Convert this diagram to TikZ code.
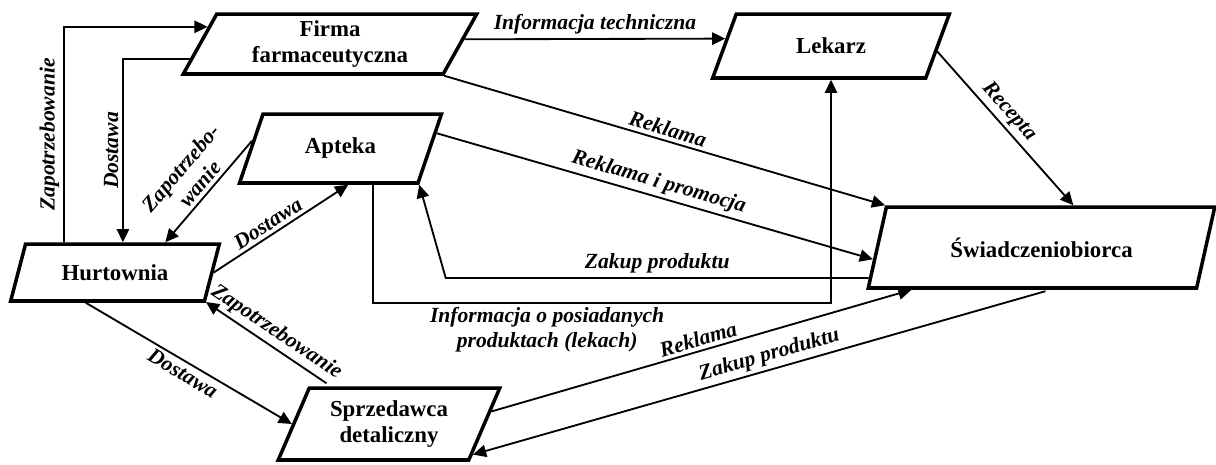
\documentclass[tikz,border=0pt]{standalone}
\usepackage{fontspec}
\setmainfont{Liberation Serif}
\usetikzlibrary{arrows.meta,calc,shapes.geometric}
\tikzset{
  box/.style={draw, line width=2pt, trapezium, trapezium left angle=65, trapezium right angle=115,
    trapezium stretches=true, inner sep=1pt, align=center, font=\fontsize{13}{15}\selectfont\bfseries},
  flow/.style={line width=1.05pt, -{Triangle[length=7.5pt,width=7pt]}},
  lbl/.style={font=\fontsize{12.3}{14}\selectfont\bfseries\itshape, inner sep=2pt, align=center}
}
\begin{document}
\begin{tikzpicture}[x=0.02cm,y=-0.02cm]
\useasboundingbox (0,0) rectangle (1216,464);
\node[box, minimum width=5.88cm, minimum height=1.2cm] (firma) at (330,44) {Firma\\farmaceutyczna};
\node[box, minimum width=4.76cm, minimum height=1.28cm] (lekarz) at (831,46) {Lekarz};
\node[box, minimum width=4.06cm, minimum height=1.38cm] (apteka) at (340.5,148.5) {Apteka};
\node[box, minimum width=4.2cm, minimum height=1.14cm] (hurt) at (115,272.5) {Hurtownia};
\node[box, minimum width=4.44cm, minimum height=1.44cm] (sprzed) at (389,424) {Sprzedawca\\detaliczny};
\node[box, minimum width=6.94cm, minimum height=1.62cm] (swiad) at (1041.5,247.5) {Świadczeniobiorca};

\draw[flow] ($(hurt.top left corner)!0.2!(hurt.top right corner)$) |- node[lbl, sloped, pos=0.25, above] {Zapotrzebowanie} (firma.172);
\draw[flow] (firma.186) -| node[lbl, rotate=90, pos=0.75, above] {Dostawa} (hurt.top side);
\draw[flow] (apteka.175) -- node[lbl, sloped, pos=0.5, above] {Zapotrzebo-\\wanie} (hurt.31);
\draw[flow] (hurt.east) -- node[lbl, sloped, pos=0.45, above] {Dostawa} (apteka.-78);
\draw[flow, shorten <=3pt] (sprzed.147) -- node[lbl, sloped, pos=0.5, above] {Zapotrzebowanie} (hurt.-18);
\draw[flow] (hurt.226) -- node[lbl, sloped, pos=0.5, below] {Dostawa} (sprzed.west);
\draw[flow] (firma.2) -- node[lbl, above] {Informacja techniczna} (lekarz.176);
\draw[flow] (firma.bottom right corner) -- node[lbl, sloped, pos=0.5, above] {Reklama} (swiad.top left corner);
\draw[flow] (apteka.9) -- node[lbl, sloped, pos=0.5, above] {Reklama i promocja} (swiad.184);
\draw[flow] (lekarz.-3) -- node[lbl, sloped, pos=0.45, above] {Recepta} (swiad.53);
\draw[flow] (swiad.190) -- ++(-423,0) node[lbl, midway, above] {Zakup produktu} -- (apteka.bottom right corner);
\draw[flow] (apteka.-48) -- ++(0,118) -| node[lbl, pos=0.19, below] {Informacja o posiadanych\\produktach (lekach)} (lekarz.south);
\draw[flow] (sprzed.7) -- node[lbl, sloped, pos=0.5, above] {Reklama} (swiad.198);
\draw[flow, shorten <=3pt] (swiad.-78) -- node[lbl, sloped, pos=0.48, above] {Zakup produktu} (sprzed.-20);
\end{tikzpicture}
\end{document}
